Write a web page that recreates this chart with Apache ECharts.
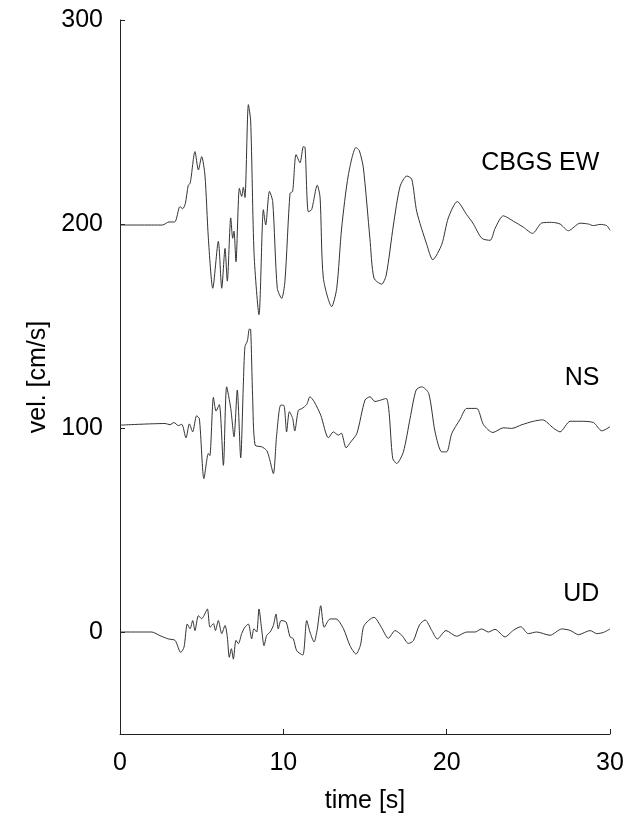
<!DOCTYPE html>
<html>
<head>
<meta charset="utf-8">
<script src="https://cdn.jsdelivr.net/npm/echarts@6/dist/echarts.min.js"></script>
<style>
html,body{margin:0;padding:0;background:#fff;}
#chart{width:633px;height:819px;}
</style>
</head>
<body>
<div id="chart"></div>
<script>
// time [s], velocity [cm/s] (offset traces as plotted)
const ewData = [[0,199.5],[2.6,199.5],[3.0,201],[3.35,201],[3.67,208.5],[3.84,207.5],[4.0,210],[4.18,219],[4.3,220],[4.59,235.5],[4.8,226.5],[5.0,233],[5.2,224],[5.41,193],[5.68,168.5],[6.02,191.5],[6.23,168.5],[6.43,188],[6.57,172],[6.78,203],[6.9,193],[6.98,196.5],[7.1,181.5],[7.31,217.5],[7.45,213.5],[7.55,218],[7.65,213],[7.86,258.5],[8.0,250.5],[8.21,185],[8.51,155.5],[8.78,207],[8.92,199.5],[9.15,216],[9.35,211],[9.63,168.5],[9.9,163.5],[10.1,172],[10.41,215],[10.57,216],[10.78,234],[11.02,230],[11.23,238],[11.33,237.5],[11.53,206],[11.73,207],[12.08,219],[12.25,213],[12.45,173.5],[12.96,159.5],[13.27,168.5],[13.57,198],[13.98,224],[14.45,237.5],[14.65,236],[14.9,227.5],[15.3,193],[15.55,173.5],[16.02,170.5],[16.3,175],[16.74,199.5],[17.15,218.5],[17.56,223.5],[17.86,222],[18.17,206],[18.78,190],[19.15,182.5],[19.7,190],[20.1,203],[20.65,211],[21.23,204.5],[21.6,200.5],[22.15,193],[22.66,192],[22.97,198],[23.47,204],[24.1,201.3],[24.7,198.4],[25.26,195.4],[25.82,200.5],[26.42,200.8],[26.94,200],[27.45,196.7],[28.17,200.4],[28.67,200],[28.98,199.2],[29.39,199.8],[29.8,199.2],[30,196.9]];

const nsData = [[0,101.4],[2.76,102.2],[3.06,101.6],[3.3,102.7],[3.57,101.2],[3.78,101.8],[4.04,95.2],[4.25,102],[4.45,98.1],[4.69,106],[4.86,104.5],[5.14,75.2],[5.41,87.5],[5.5,86.5],[5.72,115],[5.88,108.3],[6.08,111.5],[6.33,81.7],[6.53,120.2],[6.78,109.6],[6.98,95.7],[7.18,118.6],[7.39,85.4],[7.55,121],[7.65,139.9],[7.8,142.7],[7.92,148.5],[8.0,148.3],[8.12,115.3],[8.27,91.6],[8.67,90.8],[8.98,89],[9.15,85],[9.39,77.6],[9.59,96.5],[9.84,111.2],[10.04,111],[10.2,98.1],[10.37,108],[10.57,104.7],[10.7,98.5],[10.92,108.7],[11.13,109.5],[11.43,111.5],[11.63,115.3],[11.88,113],[12.29,106.3],[12.76,95.2],[13.06,98.1],[13.37,96.5],[13.55,97.5],[13.84,90.3],[14.13,93.2],[14.5,97.3],[15.0,113.7],[15.31,115.3],[15.61,113],[16.29,114.5],[16.7,85],[16.94,82.6],[17.35,88.3],[17.76,104.7],[18.13,118.6],[18.47,120.2],[18.9,117],[19.29,98.1],[19.7,88.3],[20.0,88.3],[20.31,97.3],[20.82,104.2],[21.23,109.6],[21.84,109.6],[22.25,101.7],[22.83,97.8],[23.47,100.1],[23.98,99.8],[24.6,101.6],[25.31,103.3],[25.87,104],[26.53,100],[26.94,98.1],[27.56,103.3],[28.17,103.3],[28.98,102.7],[29.5,98.6],[30,100.6]];

const udData = [[0,0],[1.94,0],[2.45,-1.8],[2.96,-3.4],[3.37,-4.1],[3.72,-10],[3.92,-7.4],[4.12,3.9],[4.29,1.6],[4.45,5.6],[4.59,0.7],[4.8,8],[5.0,6.5],[5.14,8],[5.35,11.3],[5.51,2.3],[5.72,4.1],[5.84,0.7],[6.02,5.6],[6.23,-0.8],[6.43,3.2],[6.57,-2.4],[6.69,-12.4],[6.82,-8.2],[6.94,-13.3],[7.1,-4.1],[7.25,-5.7],[7.45,-0.8],[7.65,2.4],[7.86,3.9],[8.06,-3.4],[8.2,1.6],[8.37,0],[8.51,11.3],[8.67,1.5],[8.82,-6.7],[8.98,-1.7],[9.19,0],[9.39,3.2],[9.55,8.8],[9.69,1.5],[9.86,5.6],[10.17,4.9],[10.41,-2.4],[10.61,-3.3],[10.82,-9.2],[11.19,-11.3],[11.43,5.6],[11.63,0],[11.88,-4.9],[12.08,1.5],[12.29,12.9],[12.5,2.3],[12.86,6.4],[13.23,6.4],[13.68,1.6],[14.08,-6.7],[14.45,-10.8],[14.72,-6.5],[14.94,3.1],[15.55,7.2],[16.0,2.3],[16.43,-3.1],[16.84,0.7],[17.25,-1.6],[17.66,-5.6],[17.96,-4.3],[18.33,3.4],[18.68,5.9],[19.09,0.7],[19.43,-3.4],[19.96,0.7],[20.61,-2.1],[21.23,0],[21.74,0],[22.14,1.5],[22.55,0],[22.96,1.3],[23.57,-2.4],[24.08,0.8],[24.53,2.6],[25.0,-0.8],[25.51,0],[26.33,-1.6],[27.05,1.5],[27.56,0.8],[28.07,-1.3],[28.78,0.7],[29.19,-0.8],[29.6,-0.2],[30,1.5]];

const labelText = ['CBGS EW', 'NS', 'UD'];
const labelTime = [29.35, 29.35, 29.35];
const labelVel = [229.8, 124.5, 18.8];

const xTicks = [0, 10, 20, 30];
const yTicks = [0, 100, 200, 300];

const FONT = '"Liberation Sans", Arial, Helvetica, sans-serif';
const FS = 25;
const chart = echarts.init(document.getElementById('chart'), null, {renderer: 'canvas'});

const traceStyle = {color: '#333', width: 1};
function trace(name, data) {
  return {
    name: name, type: 'line', data: data, showSymbol: false, symbol: 'none',
    smooth: 0.25, lineStyle: traceStyle, silent: true, animation: false
  };
}

chart.setOption({
  animation: false,
  backgroundColor: '#fff',
  grid: {left: 120, right: 23, top: 20, bottom: 81, containLabel: false},
  xAxis: {
    type: 'value', min: 0, max: 30, interval: 10,
    name: 'time [s]', nameLocation: 'middle', nameGap: 55,
    nameTextStyle: {fontFamily: FONT, fontSize: FS, color: '#000'},
    axisLine: {show: true, onZero: false, lineStyle: {color: '#222', width: 1}},
    axisTick: {show: true, inside: true, length: 5, customValues: xTicks, lineStyle: {color: '#222'}},
    axisLabel: {show: true, margin: 17, fontFamily: FONT, fontSize: FS, color: '#000', customValues: xTicks},
    splitLine: {show: false}
  },
  yAxis: {
    type: 'value', min: -50, max: 300, interval: 50,
    name: 'vel. [cm/s]', nameLocation: 'middle', nameGap: 66, nameRotate: 90,
    nameTextStyle: {fontFamily: FONT, fontSize: FS, color: '#000'},
    axisLine: {show: true, onZero: false, lineStyle: {color: '#222', width: 1}},
    axisTick: {show: true, inside: true, length: 5, customValues: yTicks, lineStyle: {color: '#222'}},
    axisLabel: {show: true, margin: 17, fontFamily: FONT, fontSize: FS, color: '#000', customValues: yTicks},
    splitLine: {show: false}
  },
  series: [
    trace('EW', ewData),
    trace('NS', nsData),
    trace('UD', udData),
    {
      type: 'scatter', silent: true, symbolSize: 0, animation: false,
      itemStyle: {opacity: 1},
      data: labelText.map((t, i) => ({name: t, value: [labelTime[i], labelVel[i]]})),
      label: {show: true, position: 'left', distance: 0, formatter: '{b}', opacity: 1,
        fontFamily: FONT, fontSize: FS, color: '#000'}
    }
  ]
});
</script>
</body>
</html>
